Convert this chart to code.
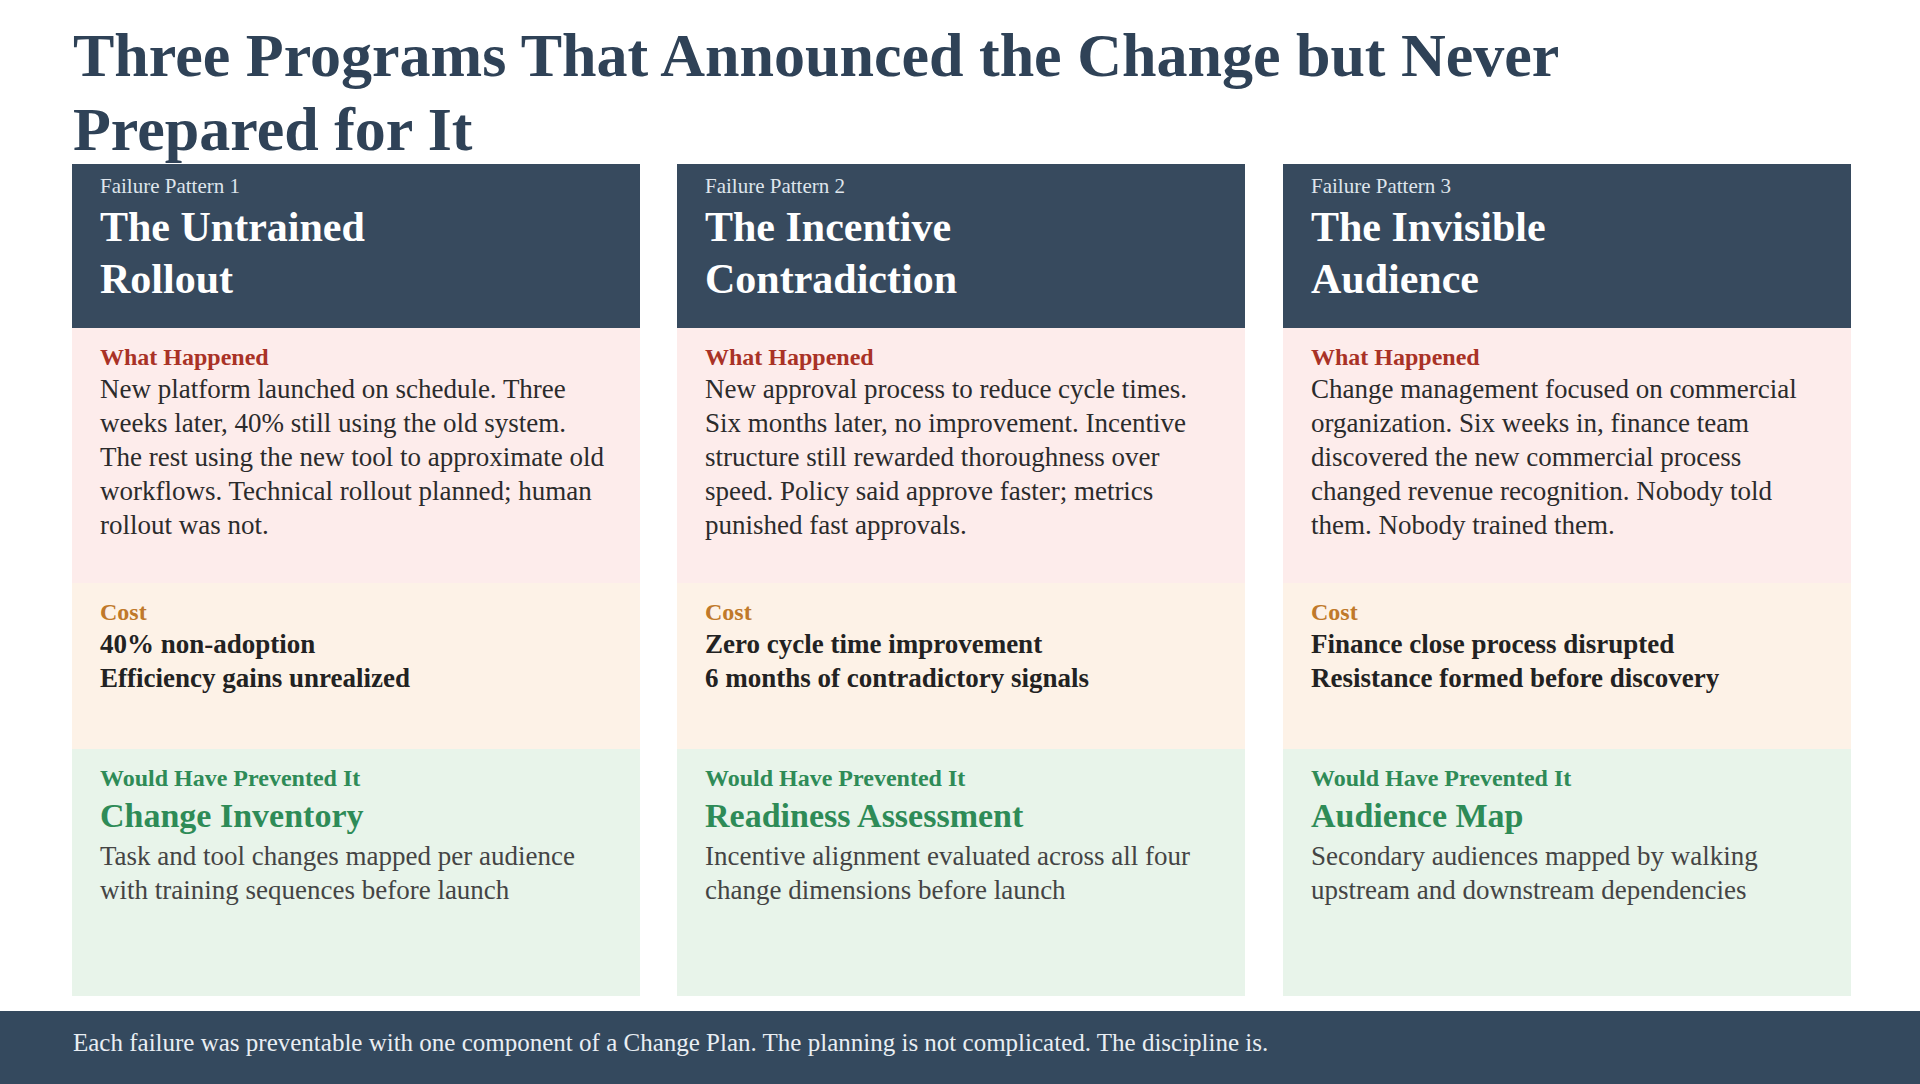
<!DOCTYPE html>
<html><head><meta charset="utf-8">
<script src="https://cdn.jsdelivr.net/npm/chart.js@4/dist/chart.umd.min.js"></script>
<style>
  html,body{margin:0;padding:0;background:#fff;}
  body{width:1920px;height:1084px;position:relative;overflow:hidden;font-family:"Liberation Serif","DejaVu Serif",serif;color:#2b2b2b;}
  h1{position:absolute;left:73px;top:18px;width:1700px;margin:0;font-size:62px;line-height:74px;color:#2f4257;font-weight:bold;}
  .card{position:absolute;top:164px;width:568px;}
  .hd{background:#374a5e;color:#fff;height:164px;box-sizing:border-box;padding:10px 28px;}
  .hd .k{font-size:21px;color:#dfe5ec;}
  .hd .t{font-size:42px;font-weight:bold;line-height:52px;margin-top:2px;}
  .sec{box-sizing:border-box;padding:14px 28px;}
  .wh{background:#fdeceb;height:255px;}
  .co{background:#fdf2e7;height:166px;}
  .pr{background:#e8f4ea;height:247px;}
  .lab{font-size:24px;font-weight:bold;line-height:30px;}
  .txt{font-size:27px;line-height:34px;}
  .wh .lab{color:#a93226;} .co .lab{color:#c0792a;} .pr .lab{color:#2e8b57;}
  .co .txt{font-weight:bold;color:#222;}
  .pr .big{font-size:34px;font-weight:bold;color:#2e8b57;line-height:46px;}
  .pr .txt{color:#444;}
  .foot{position:absolute;left:0;top:1011px;width:1920px;height:73px;background:#34495e;color:#e9eef3;font-size:25px;line-height:64px;box-sizing:border-box;padding-left:73px;}
</style></head>
<body>
<h1 id="title"></h1>
<div id="cards"></div>
<div class="foot" id="foot"></div>
<script>
const titleText = "Three Programs That Announced the Change but Never Prepared for It";
const kickers = ["Failure Pattern 1", "Failure Pattern 2", "Failure Pattern 3"];
const headings = ["The Untrained<br>Rollout", "The Incentive<br>Contradiction", "The Invisible<br>Audience"];
const happened = [
  "New platform launched on schedule. Three weeks later, 40% still using the old system. The rest using the new tool to approximate old workflows. Technical rollout planned; human rollout was not.",
  "New approval process to reduce cycle times. Six months later, no improvement. Incentive structure still rewarded thoroughness over speed. Policy said approve faster; metrics punished fast approvals.",
  "Change management focused on commercial organization. Six weeks in, finance team discovered the new commercial process changed revenue recognition. Nobody told them. Nobody trained them."
];
const costs = [
  ["40% non-adoption", "Efficiency gains unrealized"],
  ["Zero cycle time improvement", "6 months of contradictory signals"],
  ["Finance close process disrupted", "Resistance formed before discovery"]
];
const fixes = ["Change Inventory", "Readiness Assessment", "Audience Map"];
const fixText = [
  "Task and tool changes mapped per audience with training sequences before launch",
  "Incentive alignment evaluated across all four change dimensions before launch",
  "Secondary audiences mapped by walking upstream and downstream dependencies"
];
const footText = "Each failure was preventable with one component of a Change Plan. The planning is not complicated. The discipline is.";

document.getElementById("title").textContent = titleText;
document.getElementById("foot").textContent = footText;
const lefts = [72, 677, 1283];
let html = "";
kickers.forEach((k, i) => {
  html += `<div class="card" style="left:${lefts[i]}px">
    <div class="hd"><div class="k">${k}</div><div class="t">${headings[i]}</div></div>
    <div class="sec wh"><div class="lab">What Happened</div><div class="txt">${happened[i]}</div></div>
    <div class="sec co"><div class="lab">Cost</div><div class="txt">${costs[i].join("<br>")}</div></div>
    <div class="sec pr"><div class="lab">Would Have Prevented It</div><div class="big">${fixes[i]}</div><div class="txt">${fixText[i]}</div></div>
  </div>`;
});
document.getElementById("cards").innerHTML = html;
</script>
</body></html>
